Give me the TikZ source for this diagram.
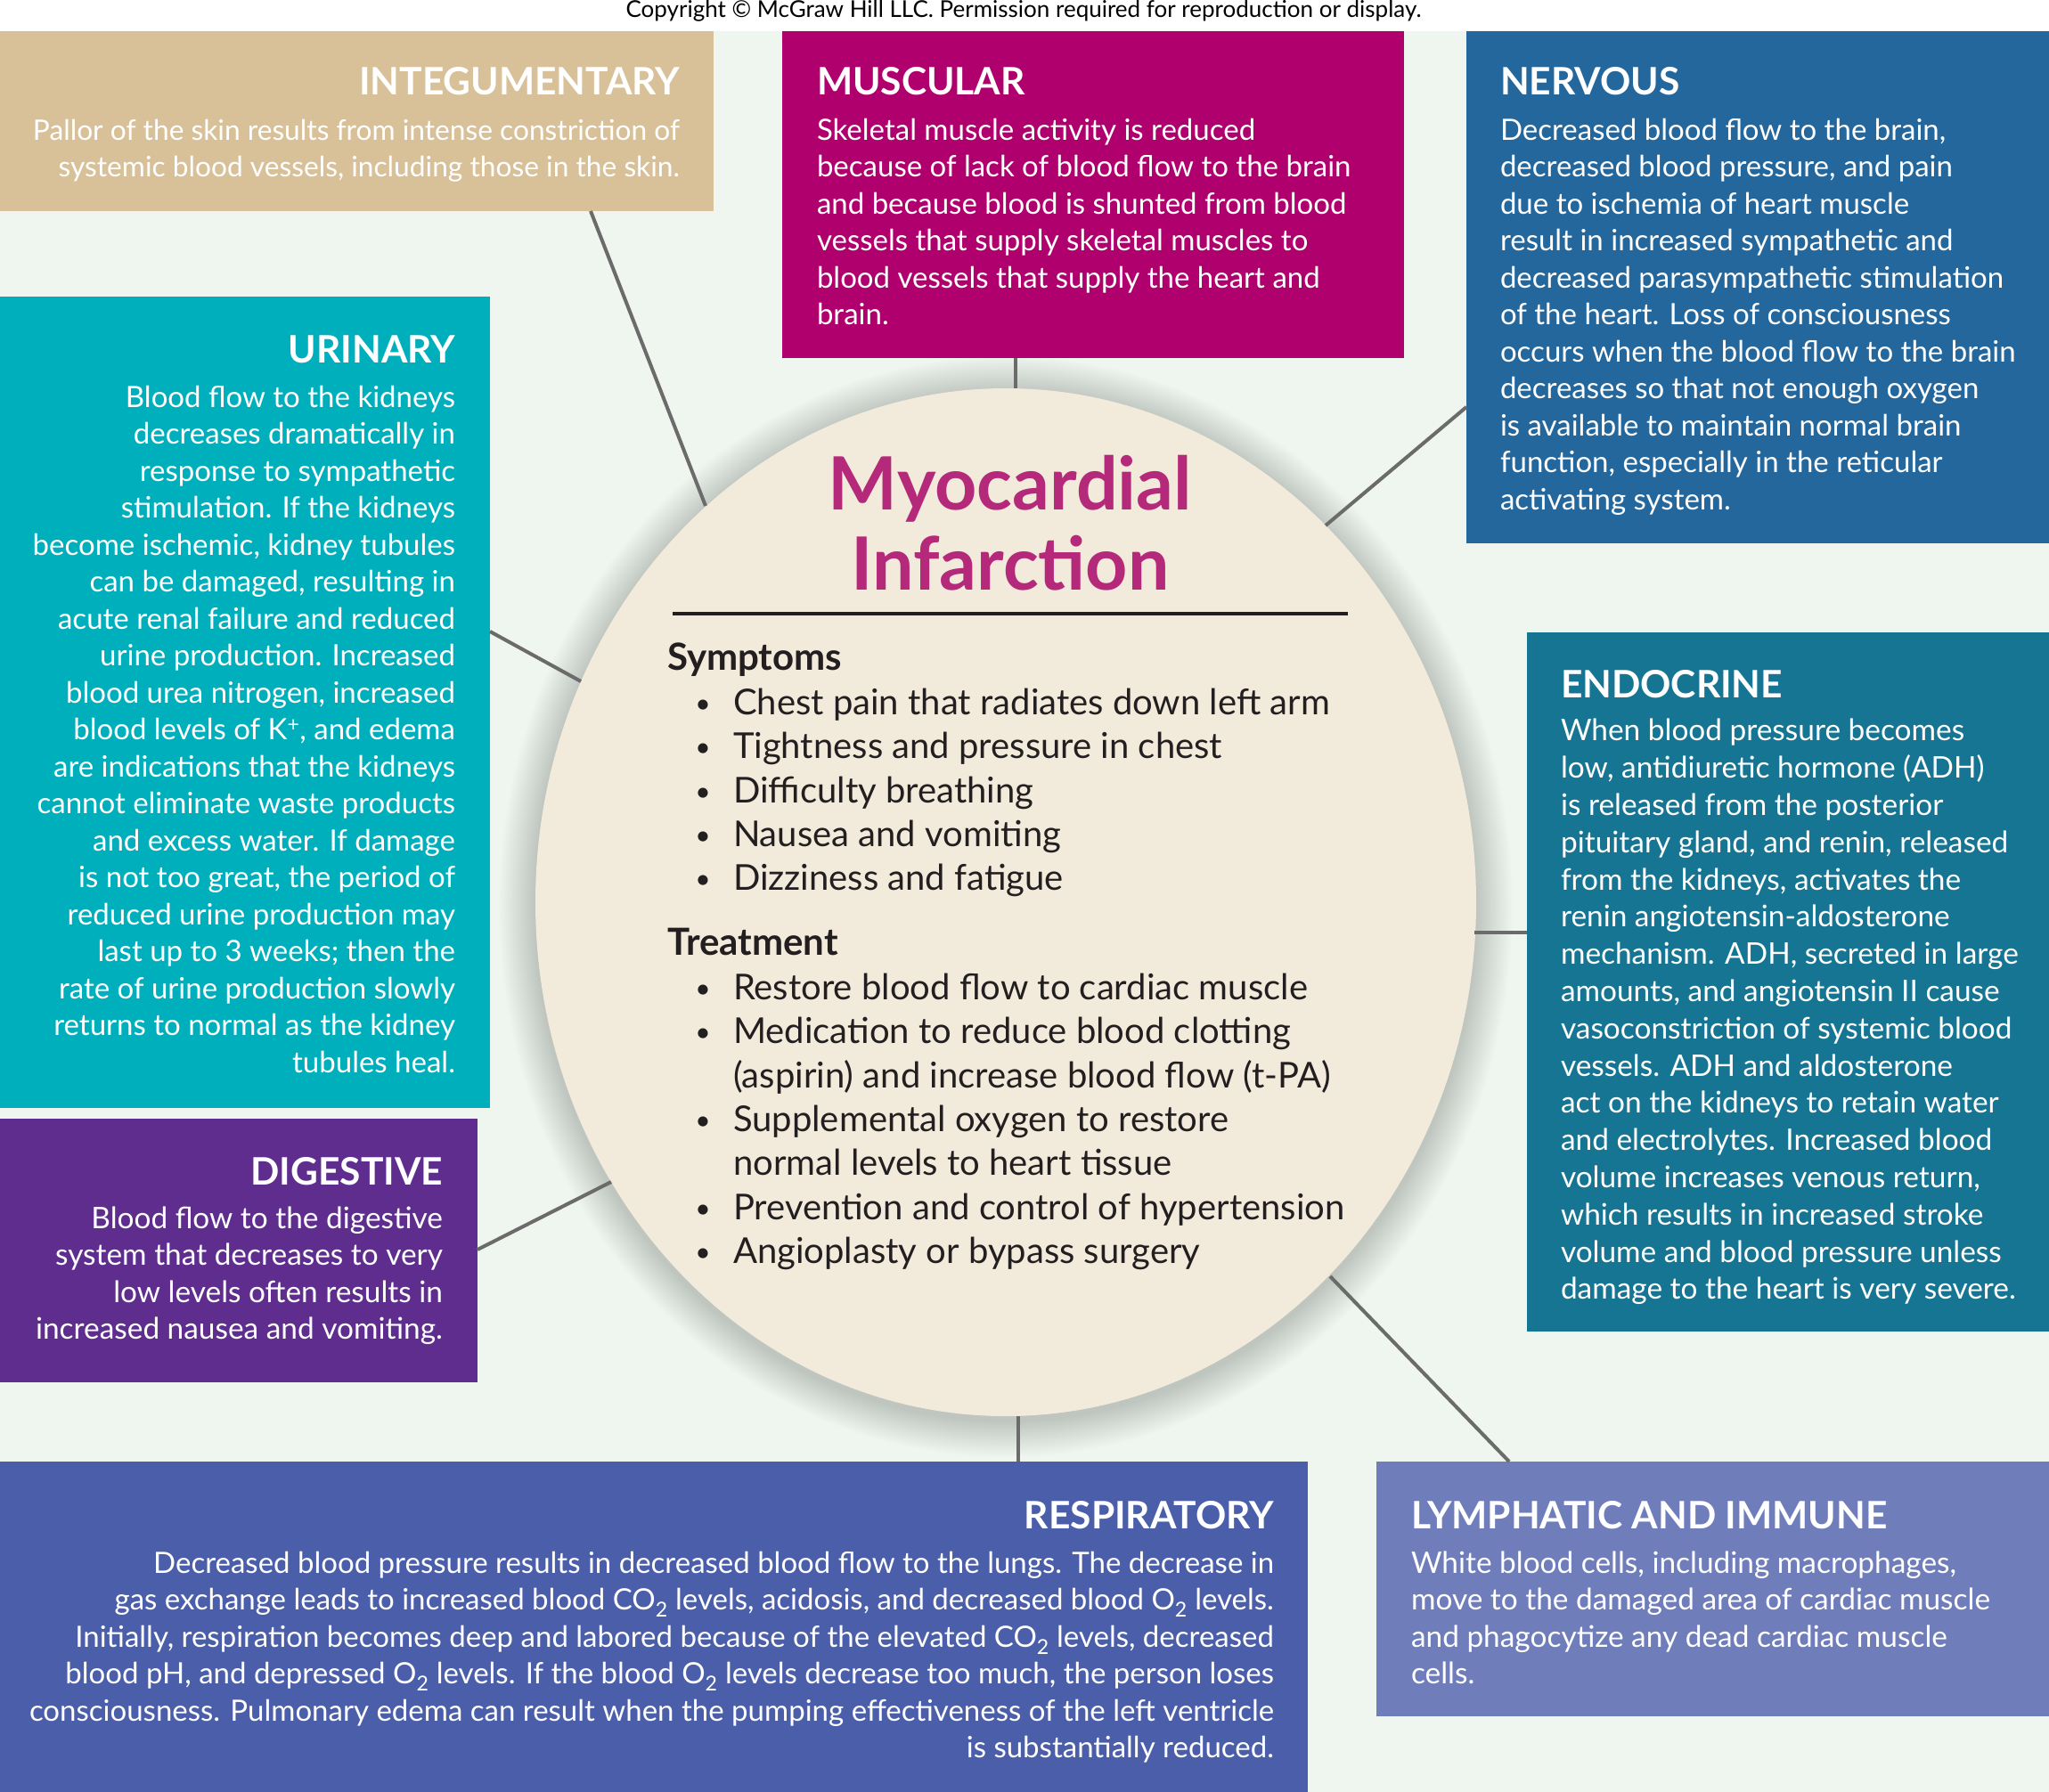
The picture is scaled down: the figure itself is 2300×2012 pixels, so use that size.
\documentclass[tikz,border=0pt]{standalone}
\usepackage{fontspec}
\setmainfont{Lato}
\usetikzlibrary{shapes.geometric,calc}

\definecolor{cbg}{HTML}{EFF5EF}
\definecolor{cInteg}{HTML}{D8C198}
\definecolor{cMusc}{HTML}{AF006E}
\definecolor{cNerv}{HTML}{23679D}
\definecolor{cUrin}{HTML}{00AFBC}
\definecolor{cEndo}{HTML}{157593}
\definecolor{cDige}{HTML}{5E2D8E}
\definecolor{cResp}{HTML}{4B5EAA}
\definecolor{cLymph}{HTML}{6F7DBB}
\definecolor{cOval}{HTML}{F2EBDC}
\definecolor{cTitle}{HTML}{B5297A}
\definecolor{cInk}{HTML}{231F20}
\definecolor{cLine}{HTML}{6B6B6B}

% text sizes (size / leading, in pt = px of the drawing)
\newcommand\bodysize{\fontsize{33}{41.5}\selectfont}
\newcommand\intsize{\fontsize{31.7}{41.5}\selectfont}
\newcommand\widesize{\fontsize{33.4}{41.5}\selectfont}
\newcommand\ecrsize{\fontsize{33.4}{41.8}\selectfont}
\newcommand\headsize{\fontsize{42.5}{48}\selectfont\bfseries}
\newcommand\itemsize{\fontsize{40}{49.4}\selectfont}
\newcommand\lsthead[1]{{\fontsize{42}{49.4}\selectfont\bfseries #1}}
\newcommand\titlesize{\fontsize{82.5}{90}\selectfont\bfseries}
\newcommand\bitem[1]{\hspace*{40pt}\makebox[0pt]{\raisebox{2pt}{\fontsize{30}{30}\selectfont\textbullet}}\hspace*{34pt}#1}
\newcommand\bcont[1]{\hspace*{74pt}#1}

\begin{document}
\begin{tikzpicture}[x=1pt,y=-1pt,
  box/.style={rectangle, inner sep=0pt, outer sep=0pt, anchor=north west},
  hd/.style={inner sep=0pt, outer sep=0pt, text=white, font=\headsize},
  bd/.style={inner sep=0pt, outer sep=0pt, text=white, font=\bodysize},
  conn/.style={draw=cLine, line width=4pt},
  lst/.style={inner sep=0pt, outer sep=0pt, text=cInk, font=\itemsize, align=left, anchor=north west}]

\useasboundingbox (0,0) rectangle (2300,2012);
\fill[white] (0,0) rectangle (2300,35);
\fill[cbg] (0,35) rectangle (2300,2012);

\node[inner sep=0pt, anchor=base, font=\fontsize{26}{30}\selectfont, text=black] (copy) at (1149,20)
  {Copyright \textcopyright{} McGraw Hill LLC. Permission required for reproduction or display.};

% soft halo under the central oval
\foreach \i in {1,...,24}
  \fill[black, opacity=0.008] (1129,1018) ellipse [x radius={528+1.7*\i}, y radius={577+1.7*\i}];
\node[ellipse, fill=cOval, minimum width=1056pt, minimum height=1154pt, inner sep=0pt, outer sep=0pt] (mi) at (1129,1013) {};

% system boxes
\node[box, fill=cInteg, minimum width=801pt, minimum height=202pt] (integ) at (0,35) {};
\node[box, fill=cMusc, minimum width=698pt, minimum height=367pt] (musc) at (878,35) {};
\node[box, fill=cNerv, minimum width=654pt, minimum height=575pt] (nerv) at (1646,35) {};
\node[box, fill=cUrin, minimum width=550pt, minimum height=911pt] (urin) at (0,333) {};
\node[box, fill=cEndo, minimum width=586pt, minimum height=785pt] (endo) at (1714,710) {};
\node[box, fill=cDige, minimum width=536pt, minimum height=296pt] (dige) at (0,1256) {};
\node[box, fill=cResp, minimum width=1468pt, minimum height=371pt] (resp) at (0,1641) {};
\node[box, fill=cLymph, minimum width=755pt, minimum height=286pt] (lymph) at (1545,1641) {};

% connector ends on the boxes
\coordinate (integ-c) at (663,237);
\coordinate (musc-c) at (1140,402);
\coordinate (nerv-c) at (1646,457);
\coordinate (urin-c) at (550,709);
\coordinate (endo-c) at (1714,1047);
\coordinate (dige-c) at (536,1403);
\coordinate (lymph-c) at (1694,1641);
\coordinate (resp-c) at (1143,1641);

\draw[conn] (integ-c) -- ($(mi.center)+(-337,-445)$);
\draw[conn] (musc-c) -- (musc-c |- mi.north);
\draw[conn] (nerv-c) -- ($(mi.center)+(359,-423)$);
\draw[conn] (urin-c) -- ($(mi.center)+(-477,-248)$);
\draw[conn] (endo-c) -- ($(mi.center)+(526,34)$);
\draw[conn] (dige-c) -- ($(mi.center)+(-443,314)$);
\draw[conn] (lymph-c) -- ($(mi.center)+(364,420)$);
\draw[conn] (resp-c) -- (resp-c |- mi.south);

% INTEGUMENTARY
\node[hd, anchor=base east] (integ-h) at (763,107) {INTEGUMENTARY};
\node[bd, font=\intsize, anchor=north east, align=right] (integ-b) at (763,128)
  {\strut Pallor of the skin results from intense constriction of\\
   systemic blood vessels, including those in the skin.};

% MUSCULAR
\node[hd, anchor=base west] (musc-h) at (917,107) {MUSCULAR};
\node[bd, anchor=north west, align=left] (musc-b) at (917,128)
  {\strut Skeletal muscle activity is reduced\\
   because of lack of blood flow to the brain\\
   and because blood is shunted from blood\\
   vessels that supply skeletal muscles to\\
   blood vessels that supply the heart and\\
   brain.};

% NERVOUS
\node[hd, anchor=base west] (nerv-h) at (1684,107) {NERVOUS};
\node[bd, anchor=north west, align=left] (nerv-b) at (1684,128)
  {\strut Decreased blood flow to the brain,\\
   decreased blood pressure, and pain\\
   due to ischemia of heart muscle\\
   result in increased sympathetic and\\
   decreased parasympathetic stimulation\\
   of the heart. Loss of consciousness\\
   occurs when the blood flow to the brain\\
   decreases so that not enough oxygen\\
   is available to maintain normal brain\\
   function, especially in the reticular\\
   activating system.};

% URINARY
\node[hd, anchor=base east] (urin-h) at (511,407) {URINARY};
\node[bd, anchor=north east, align=right] (urin-b) at (511,428)
  {\strut Blood flow to the kidneys\\
   decreases dramatically in\\
   response to sympathetic\\
   stimulation. If the kidneys\\
   become ischemic, kidney tubules\\
   can be damaged, resulting in\\
   acute renal failure and reduced\\
   urine production. Increased\\
   blood urea nitrogen, increased\\
   blood levels of K\textsuperscript{+}, and edema\\
   are indications that the kidneys\\
   cannot eliminate waste products\\
   and excess water. If damage\\
   is not too great, the period of\\
   reduced urine production may\\
   last up to 3 weeks; then the\\
   rate of urine production slowly\\
   returns to normal as the kidney\\
   tubules heal.};

% ENDOCRINE
\node[hd, anchor=base west] (endo-h) at (1752,783) {ENDOCRINE};
\node[bd, font=\ecrsize, anchor=north west, align=left] (endo-b) at (1752,802.7)
  {\strut When blood pressure becomes\\
   low, antidiuretic hormone (ADH)\\
   is released from the posterior\\
   pituitary gland, and renin, released\\
   from the kidneys, activates the\\
   renin angiotensin-aldosterone\\
   mechanism. ADH, secreted in large\\
   amounts, and angiotensin II cause\\
   vasoconstriction of systemic blood\\
   vessels. ADH and aldosterone\\
   act on the kidneys to retain water\\
   and electrolytes. Increased blood\\
   volume increases venous return,\\
   which results in increased stroke\\
   volume and blood pressure unless\\
   damage to the heart is very severe.};

% DIGESTIVE
\node[hd, anchor=base east] (dige-h) at (497,1330) {DIGESTIVE};
\node[bd, font=\widesize, anchor=north east, align=right] (dige-b) at (497,1350)
  {\strut Blood flow to the digestive\\
   system that decreases to very\\
   low levels often results in\\
   increased nausea and vomiting.};

% RESPIRATORY
\node[hd, anchor=base east] (resp-h) at (1430,1716) {RESPIRATORY};
\node[bd, anchor=north east, align=right] (resp-b) at (1430,1737)
  {\strut Decreased blood pressure results in decreased blood flow to the lungs. The decrease in\\
   gas exchange leads to increased blood CO\textsubscript{2} levels, acidosis, and decreased blood O\textsubscript{2} levels.\\
   Initially, respiration becomes deep and labored because of the elevated CO\textsubscript{2} levels, decreased\\
   blood pH, and depressed O\textsubscript{2} levels. If the blood O\textsubscript{2} levels decrease too much, the person loses\\
   consciousness. Pulmonary edema can result when the pumping effectiveness of the left ventricle\\
   is substantially reduced.};

% LYMPHATIC AND IMMUNE
\node[hd, anchor=base west] (lymph-h) at (1584,1716) {LYMPHATIC AND IMMUNE};
\node[bd, font=\widesize, anchor=north west, align=left] (lymph-b) at (1584,1737)
  {\strut White blood cells, including macrophages,\\
   move to the damaged area of cardiac muscle\\
   and phagocytize any dead cardiac muscle\\
   cells.};

% central oval contents
\node[inner sep=0pt, outer sep=0pt, anchor=north, align=center, text=cTitle, font=\titlesize] (title) at (1134,509)
  {\strut Myocardial\\Infarction};
\coordinate (rule-l) at (755,689);
\coordinate (rule-r) at (1513,689);
\draw[cInk, line width=3.5pt] (rule-l) -- (rule-r);

\node[lst] (sym) at (749,718.4)
  {\strut\lsthead{Symptoms}\\
   \bitem{Chest pain that radiates down left arm}\\
   \bitem{Tightness and pressure in chest}\\
   \bitem{Difficulty breathing}\\
   \bitem{Nausea and vomiting}\\
   \bitem{Dizziness and fatigue}};
\node[lst] (treat) at (749,1038.4)
  {\strut\lsthead{Treatment}\\
   \bitem{Restore blood flow to cardiac muscle}\\
   \bitem{Medication to reduce blood clotting}\\
   \bcont{(aspirin) and increase blood flow (t-PA)}\\
   \bitem{Supplemental oxygen to restore}\\
   \bcont{normal levels to heart tissue}\\
   \bitem{Prevention and control of hypertension}\\
   \bitem{Angioplasty or bypass surgery}};
\end{tikzpicture}
\end{document}
